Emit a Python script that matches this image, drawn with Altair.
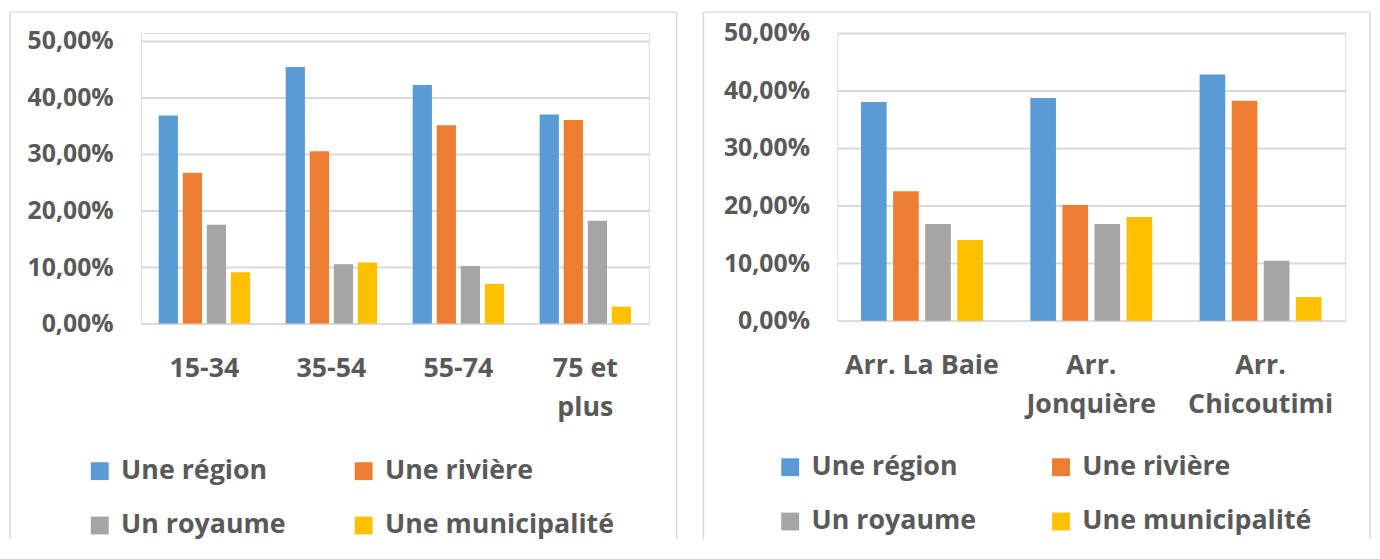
import altair as alt
import pandas as pd

SERIES = ["Une région", "Une rivière", "Un royaume", "Une municipalité"]
COLORS = ["#5B9BD5", "#ED7D31", "#A5A5A5", "#FFC000"]

AGES = ["15-34", "35-54", "55-74", "75 et plus"]
AGE_REGION = [36.8, 45.4, 42.2, 37.0]
AGE_RIVIERE = [26.7, 30.5, 35.1, 36.0]
AGE_ROYAUME = [17.5, 10.5, 10.2, 18.2]
AGE_MUNICIPALITE = [9.1, 10.8, 7.0, 3.0]

ARRS = ["Arr. La Baie", "Arr. Jonquière", "Arr. Chicoutimi"]
ARR_REGION = [38.0, 38.7, 42.8]
ARR_RIVIERE = [22.5, 20.1, 38.2]
ARR_ROYAUME = [16.8, 16.8, 10.4]
ARR_MUNICIPALITE = [14.0, 18.0, 4.1]

Y_TICKS = [0, 10, 20, 30, 40, 50]

FONT = "Open Sans"
TEXT = "#595959"
GRID = "#D9D9D9"


def make_df(cats, cols):
    rows = []
    for s, vals in zip(SERIES, cols):
        for c, v in zip(cats, vals):
            rows.append({"cat": c, "series": s, "value": v})
    return pd.DataFrame(rows)


def wrap_expr(wraps):
    expr = "datum.label"
    for k, lines in wraps.items():
        arr = "[" + ", ".join("'" + l + "'" for l in lines) + "]"
        expr = f"datum.label == '{k}' ? {arr} : ({expr})"
    return expr


def border(left, right, top, bottom):
    d = alt.Data(values=[{"k": 1}])
    base = alt.Chart(d)
    st = dict(color=GRID, strokeWidth=1.5)
    top_r = base.mark_rule(**st).encode(x=alt.value(left), x2=alt.value(right), y=alt.value(top))
    left_r = base.mark_rule(**st).encode(x=alt.value(left), y=alt.value(top), y2=alt.value(bottom))
    right_r = base.mark_rule(**st).encode(x=alt.value(right), y=alt.value(top), y2=alt.value(bottom))
    return top_r + left_r + right_r


def panel(cats, cols, wraps, w, h, yrange, lx, ly, colpad, bx):
    df = make_df(cats, cols)
    bars = alt.Chart(df).mark_bar().encode(
        x=alt.X(
            "cat:N", sort=cats, title=None,
            scale=alt.Scale(paddingInner=0.28, paddingOuter=0.14),
            axis=alt.Axis(
                labelAngle=0, ticks=False, domain=False, grid=False,
                labelFont=FONT, labelFontSize=27, labelFontWeight="bold",
                labelColor=TEXT, labelPadding=32, labelLineHeight=40,
                labelLimit=400, labelExpr=wrap_expr(wraps),
            ),
        ),
        xOffset=alt.XOffset("series:N", sort=SERIES, scale=alt.Scale(paddingInner=0.2)),
        y=alt.Y(
            "value:Q", title=None,
            scale=alt.Scale(domain=[0, 50], range=yrange),
            axis=alt.Axis(
                values=Y_TICKS, ticks=False, domain=False, grid=True,
                gridColor=GRID, gridWidth=2,
                labelFont=FONT, labelFontSize=25, labelFontWeight="bold",
                labelColor=TEXT, labelPadding=28,
                labelExpr="replace(format(datum.value, '.2f'), '.', ',') + '%'",
            ),
        ),
        color=alt.Color(
            "series:N", sort=SERIES,
            scale=alt.Scale(domain=SERIES, range=COLORS),
            legend=alt.Legend(
                title=None, orient="none", legendX=lx, legendY=ly,
                direction="horizontal",
                columns=2, columnPadding=colpad, rowPadding=27, padding=0,
                symbolType="square", symbolSize=324, symbolStrokeWidth=0,
                labelFont=FONT, labelFontSize=27, labelFontWeight="bold",
                labelColor=TEXT, labelOffset=8, labelLimit=400,
            ),
        ),
    )
    b = border(*bx)
    return alt.layer(b, bars).properties(width=w, height=h)


left = panel(
    AGES, [AGE_REGION, AGE_RIVIERE, AGE_ROYAUME, AGE_MUNICIPALITE],
    {"75 et plus": ["75 et", "plus"]},
    512, 293, [293, 8], -55, 428, 64, (-132, 540, -21, 510),
)
right = panel(
    ARRS, [ARR_REGION, ARR_RIVIERE, ARR_ROYAUME, ARR_MUNICIPALITE],
    {"Arr. Jonquière": ["Arr.", "Jonquière"], "Arr. Chicoutimi": ["Arr.", "Chicoutimi"]},
    512, 290, [290, 0], -61, 424, 71, (-135, 537, -21, 510),
)

chart = (
    alt.hconcat(left, right, spacing=23)
    .resolve_scale(x="independent", y="independent", xOffset="independent", color="independent")
    .resolve_legend(color="independent")
    .properties(padding=0)
    .configure_view(stroke=None)
    .configure(background="white")
)

chart.save("out.html", embed_options={"renderer": "svg", "actions": False})
